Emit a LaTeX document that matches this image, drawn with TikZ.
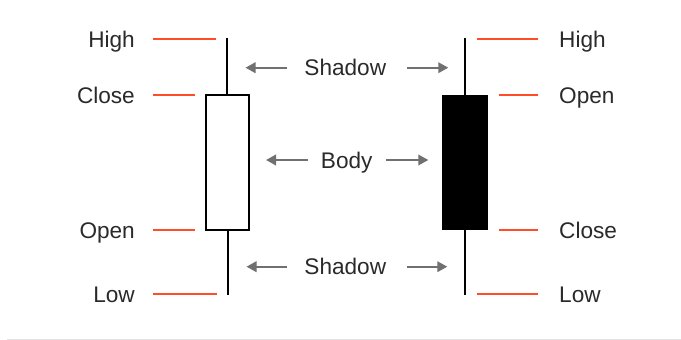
\documentclass[tikz,border=0pt]{standalone}
\usepackage{fontspec}
\setmainfont{Liberation Sans}
\usetikzlibrary{arrows.meta}
\definecolor{lvl}{HTML}{FF4D2A}
\definecolor{arr}{HTML}{707070}
\definecolor{txt}{HTML}{2A2A2A}
\definecolor{rule}{HTML}{E2E2E2}
\tikzset{
  lbl/.style={inner sep=0pt, text=txt, font=\fontsize{22.6}{27}\selectfont},
  lvlline/.style={draw=lvl, line width=2pt},
  wick/.style={draw=black, line width=2pt},
  arrline/.style={draw=arr, line width=2pt, -{Triangle[length=10pt,width=10.5pt]}},
}
\begin{document}
\begin{tikzpicture}[x=1pt,y=-1pt]
\useasboundingbox (0,0) rectangle (681,340);
\fill[white] (0,0) rectangle (681,340);
\draw[rule, line width=1pt] (7,339) -- (681,339);

% left candle (white)
\coordinate (lh) at (227,38);
\coordinate (lt) at (227,95);
\coordinate (lb) at (228,230);
\coordinate (ll) at (228,295);
\draw[wick] (lh) -- (lt);
\draw[wick] (lb) -- (ll);
\draw[wick, line width=1.6pt, fill=white] (206,95) rectangle (249,230);

% right candle (black)
\coordinate (rh) at (465,38);
\coordinate (rt) at (465,95);
\coordinate (rb) at (465,230);
\coordinate (rl) at (465,295);
\draw[wick] (rh) -- (rl);
\fill[black] (442.3,95) rectangle (488,230);

% left levels
\draw[lvlline] (153,39) -- (215.5,39);
\draw[lvlline] (153,95) -- (195,95);
\draw[lvlline] (153,230) -- (195,230);
\draw[lvlline] (153,294) -- (217,294);
\node[lbl, anchor=base east] (lHigh) at (135,47) {High};
\node[lbl, anchor=base east] (lClose) at (135,103) {Close};
\node[lbl, anchor=base east] (lOpen) at (135,238) {Open};
\node[lbl, anchor=base east] (lLow) at (135,302) {Low};

% right levels
\draw[lvlline] (476.7,39) -- (538,39);
\draw[lvlline] (498.7,95) -- (538,95);
\draw[lvlline] (498.7,230) -- (538,230);
\draw[lvlline] (476.7,294) -- (538,294);
\node[lbl, anchor=base west] (rHigh) at (559,47) {High};
\node[lbl, anchor=base west] (rOpen) at (559,103) {Open};
\node[lbl, anchor=base west] (rClose) at (559,238) {Close};
\node[lbl, anchor=base west] (rLow) at (559,302) {Low};

% middle labels
\node[lbl, anchor=base] (shadowTop) at (345.3,75.7) {Shadow};
\node[lbl, anchor=base] (body) at (346.7,168) {Body};
\node[lbl, anchor=base] (shadowBot) at (345.3,274.7) {Shadow};

\coordinate (st1) at (287,67.7);   \coordinate (sh1) at (245.5,67.7);
\coordinate (st2) at (406.7,67.7); \coordinate (sh2) at (448.3,67.7);
\coordinate (bt1) at (307.7,160);  \coordinate (bh1) at (266,160);
\coordinate (bt2) at (386,160);    \coordinate (bh2) at (428.3,160);
\coordinate (lt1) at (287,266.7);  \coordinate (lh1) at (246.5,266.7);
\coordinate (lt2) at (406.7,266.7);\coordinate (lh2) at (447.3,266.7);
\draw[arrline] (st1) -- (sh1);
\draw[arrline] (st2) -- (sh2);
\draw[arrline] (bt1) -- (bh1);
\draw[arrline] (bt2) -- (bh2);
\draw[arrline] (lt1) -- (lh1);
\draw[arrline] (lt2) -- (lh2);
\end{tikzpicture}
\end{document}
